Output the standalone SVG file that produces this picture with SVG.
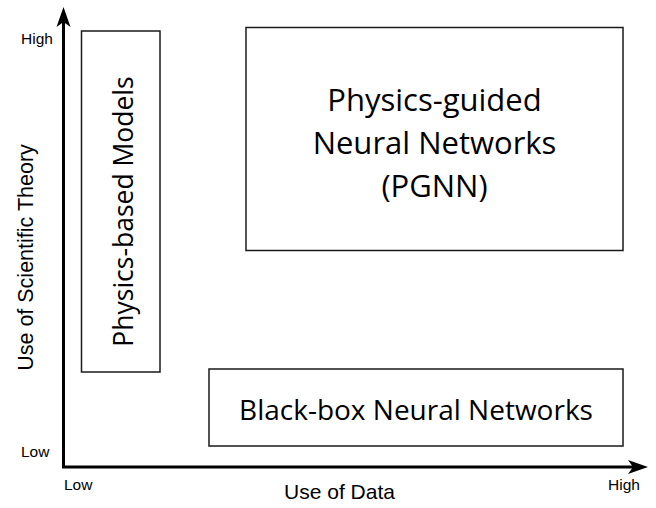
<svg xmlns="http://www.w3.org/2000/svg" width="656" height="508" viewBox="0 0 656 508">
  <style>
    .box { fill: #ffffff; stroke: #1a1a1a; stroke-width: 1.5; }
    .axis { fill: none; stroke: #000000; stroke-width: 3; }
    .lbl { font-family: "Open Sans", "Noto Sans", sans-serif; fill: #000000; text-anchor: middle; }
    .ax { font-family: "Liberation Sans", Arial, sans-serif; fill: #000000; }
  </style>
  <defs>
    <marker id="arrow" markerUnits="userSpaceOnUse" viewBox="-10 -8 24 16" refX="0" refY="0" markerWidth="24" markerHeight="16" orient="auto">
      <path d="M12,0 L-8,-7 L-3,0 L-8,7 Z" fill="#000000"/>
    </marker>
  </defs>
  <rect width="656" height="508" fill="#ffffff"/>

  <g id="connectors">
    <path class="axis" d="M63.5,468 L63.5,19" marker-end="url(#arrow)"/>
    <path class="axis" d="M62,467 L636,467" marker-end="url(#arrow)"/>
  </g>

  <g id="axis-labels">
    <text class="ax" x="21" y="44" font-size="15.5">High</text>
    <text class="ax" x="21" y="457" font-size="15.5">Low</text>
    <text class="ax" x="64" y="490" font-size="15.5">Low</text>
    <text class="ax" x="608" y="490" font-size="15.5">High</text>
    <text class="ax" x="339.5" y="499" font-size="21" text-anchor="middle">Use of Data</text>
    <text class="ax" transform="translate(33,257.5) rotate(-90)" font-size="21.5" text-anchor="middle">Use of Scientific Theory</text>
  </g>

  <g id="physics-based-models">
    <rect class="box" x="81.5" y="31" width="78.5" height="341"/>
    <text class="lbl" transform="translate(132.5,211.5) rotate(-90)" font-size="26.5">Physics-based Models</text>
  </g>

  <g id="pgnn">
    <rect class="box" x="246" y="27.5" width="377" height="223"/>
    <text class="lbl" x="434.5" y="111" font-size="31">Physics-guided</text>
    <text class="lbl" x="434.5" y="154" font-size="31">Neural Networks</text>
    <text class="lbl" x="434.5" y="197" font-size="31">(PGNN)</text>
  </g>

  <g id="black-box-neural-networks">
    <rect class="box" x="209" y="369" width="414" height="77"/>
    <text class="lbl" x="416" y="420" font-size="28">Black-box Neural Networks</text>
  </g>
</svg>
